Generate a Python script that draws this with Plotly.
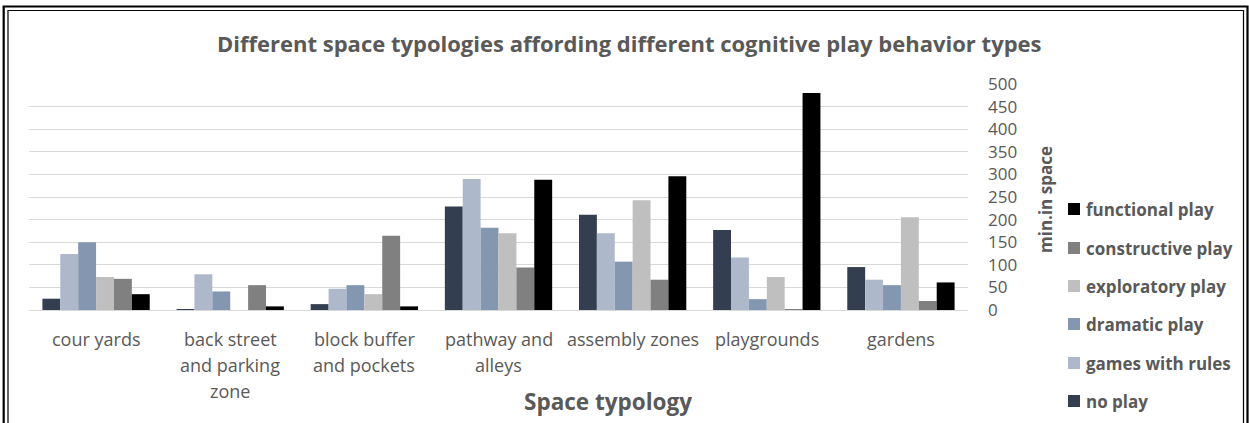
import plotly.graph_objects as go

# Space typologies (x categories); "\n" marks a line break in the axis label
categories = [
    "cour yards",
    "back street\nand parking\nzone",
    "block buffer\nand pockets",
    "pathway and\nalleys",
    "assembly zones",
    "playgrounds",
    "gardens",
]

# Minutes observed in each space, per cognitive play behaviour type
no_play = [25, 2, 13, 229, 211, 177, 95]
games_with_rules = [124, 79, 47, 290, 170, 116, 67]
dramatic_play = [150, 41, 55, 182, 107, 24, 55]
exploratory_play = [73, 0, 35, 170, 243, 73, 205]
constructive_play = [69, 55, 164, 94, 67, 1, 20]
functional_play = [35, 8, 8, 288, 296, 480, 61]

series_names = ["no play", "games with rules", "dramatic play",
                "exploratory play", "constructive play", "functional play"]
series_values = [no_play, games_with_rules, dramatic_play,
                 exploratory_play, constructive_play, functional_play]
series_colors = ["#333F50", "#ADB9CA", "#8497B0", "#BFBFBF", "#808080", "#000000"]

y_ticks = [0, 50, 100, 150, 200, 250, 300, 350, 400, 450, 500]

FONT = "Open Sans"
TEXT = "#595959"

# Plot box in pixels (used to place paper-referenced decorations)
W_PX, H_PX = 1249, 423
L, R, T, B = 29, 968, 84, 310


def px(x, y):
    """Pixel position -> paper coordinates."""
    return (x - L) / (R - L), (B - y) / (B - T)


x_keys = [c.replace("\n", " ") for c in categories]

fig = go.Figure()
for name, vals, col in zip(series_names, series_values, series_colors):
    fig.add_trace(go.Bar(
        name=name, x=x_keys, y=vals, marker=dict(color=col, line=dict(width=0)),
        showlegend=False,
    ))

annotations = []
shapes = []

# Chart title
tx, ty = px(629, 43)
annotations.append(dict(
    text="<b>Different space typologies affording different cognitive play behavior types</b>",
    x=tx, y=ty, xref="paper", yref="paper", showarrow=False,
    font=dict(family=FONT, size=22, color=TEXT), xanchor="center", yanchor="middle"))

# Category labels, one annotation per line
for key, cat in zip(x_keys, categories):
    for i, line in enumerate(cat.split("\n")):
        _, ly = px(0, 339 + 26 * i)
        annotations.append(dict(
            text=line, x=key, y=ly, xref="x", yref="paper", showarrow=False,
            font=dict(family=FONT, size=18, color=TEXT),
            xanchor="center", yanchor="middle"))

# X axis title
ax_, ay_ = px(608, 401)
annotations.append(dict(
    text="<b>Space typology</b>", x=ax_, y=ay_, xref="paper", yref="paper",
    showarrow=False, font=dict(family=FONT, size=22.5, color=TEXT),
    xanchor="center", yanchor="middle"))

# Y axis title (right side, rotated)
yx, yy = px(1045, 200)
annotations.append(dict(
    text="<b>min.in space</b>", x=yx, y=yy, xref="paper", yref="paper",
    showarrow=False, textangle=-90, font=dict(family=FONT, size=17, color=TEXT),
    xanchor="center", yanchor="middle"))

# Legend (top to bottom: reverse series order)
legend_y = [209, 248, 286, 324, 363, 401]
for yc, name, col in zip(legend_y, series_names[::-1], series_colors[::-1]):
    x0, y0 = px(1068, yc - 6)
    x1, y1 = px(1080, yc + 6)
    shapes.append(dict(type="rect", xref="paper", yref="paper",
                       x0=x0, x1=x1, y0=y1, y1=y0,
                       fillcolor=col, line=dict(width=0)))
    lx, ly = px(1084, yc)
    annotations.append(dict(
        text=f"<b>{name}</b>", x=lx, y=ly, xref="paper", yref="paper",
        showarrow=False, font=dict(family=FONT, size=17, color=TEXT),
        xanchor="left", yanchor="middle"))

# Double frame around the chart
ox0, oy0 = px(3.7, 6.5)
ox1, oy1 = px(1247.5, 440)
shapes.append(dict(type="rect", xref="paper", yref="paper",
                   x0=ox0, x1=ox1, y0=oy1, y1=oy0,
                   line=dict(color="#000000", width=2.2), fillcolor="rgba(0,0,0,0)"))
ix0, iy0 = px(8, 10.5)
ix1, iy1 = px(1243.5, 440)
shapes.append(dict(type="rect", xref="paper", yref="paper",
                   x0=ix0, x1=ix1, y0=iy1, y1=iy0,
                   line=dict(color="#000000", width=1.2), fillcolor="rgba(0,0,0,0)"))

fig.update_layout(
    width=W_PX, height=H_PX,
    margin=dict(l=L, r=W_PX - R, t=T, b=H_PX - B, pad=0),
    paper_bgcolor="#FFFFFF", plot_bgcolor="#FFFFFF",
    barmode="group", bargap=0.2, bargroupgap=0,
    font=dict(family=FONT, color=TEXT),
    annotations=annotations, shapes=shapes,
    showlegend=False,
    xaxis=dict(
        type="category", categoryorder="array", categoryarray=x_keys,
        showticklabels=False, showgrid=False, ticks="",
        showline=True, linecolor="#D9D9D9", linewidth=1,
        zeroline=False, fixedrange=True,
    ),
    yaxis=dict(
        side="right", range=[0, 500], tickvals=y_ticks,
        showgrid=True, gridcolor="#D9D9D9", gridwidth=1,
        zeroline=False, showline=False, ticks="",
        tickfont=dict(family=FONT, size=17, color=TEXT),
        ticklabelstandoff=19, fixedrange=True,
    ),
)

fig.write_html("out.html")
